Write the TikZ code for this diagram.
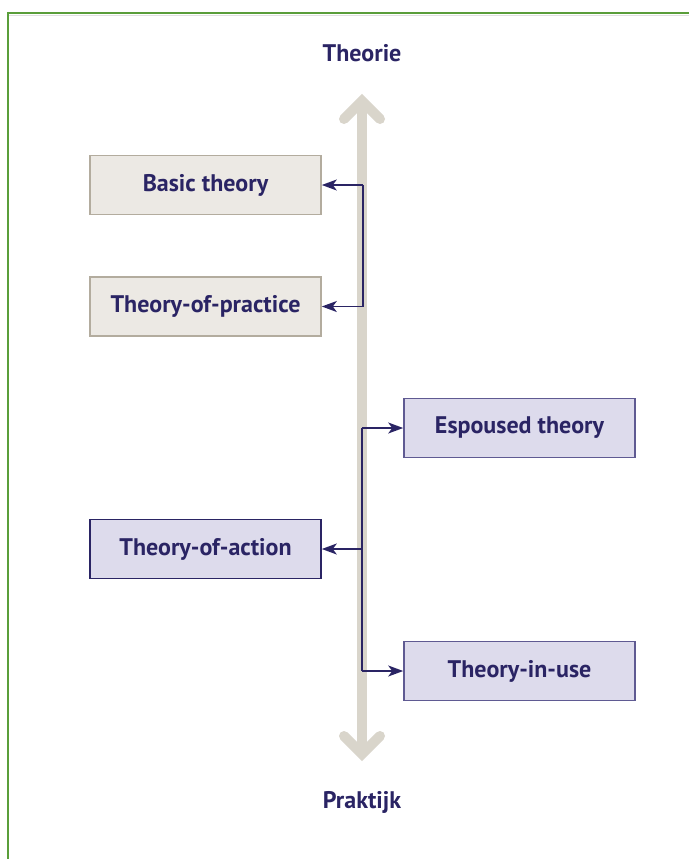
\documentclass[tikz,border=0pt]{standalone}
\usepackage{fontspec}
\setmainfont{PT Sans}
\usetikzlibrary{arrows.meta}
\definecolor{navy}{HTML}{2A2464}
\definecolor{axisgrey}{HTML}{D9D5CB}
\definecolor{theorybg}{HTML}{ECE9E4}
\definecolor{theoryrule}{HTML}{B3AC9E}
\definecolor{practicebg}{HTML}{DDDBEC}
\definecolor{practicerule}{HTML}{5F5A92}
\definecolor{framegreen}{HTML}{5A9E3A}
\begin{document}
\begin{tikzpicture}[x=1pt,y=-1pt,
  label/.style={font=\fontsize{24}{26}\selectfont\bfseries, text=navy},
  box/.style={rectangle, minimum width=231pt, minimum height=59pt, line width=1.6pt,
    font=\fontsize{24}{26}\selectfont\bfseries, text=navy},
  theorybox/.style={box, fill=theorybg, draw=theoryrule},
  practicebox/.style={box, fill=practicebg, draw=practicerule},
  link/.style={draw=navy, line width=1.6pt, -{Stealth[length=15pt,width=11pt,inset=4pt]}},
  axis/.style={draw=axisgrey, line width=10pt}
]
\useasboundingbox (0,0) rectangle (689,859);

% frame lines (top and left)
\draw[black!12, line width=1.5pt] (8,15.5) -- (689,15.5);
\draw[framegreen, line width=2pt] (7,13) -- (689,13);
\draw[framegreen, line width=2pt] (8,12) -- (8,859);

% vertical axis with open heads at both ends
\draw[axis] (362,102) -- (362,754);
\draw[axis, line cap=round, line join=miter] (344,119) -- (362,101) -- (380,119);
\draw[axis, line cap=round, line join=miter] (344,736) -- (362,754) -- (380,736);

\node[label] (top) at (362,53) {Theorie};
\node[label] (bottom) at (362,802) {Praktijk};

% boxes
\node[theorybox] (basic) at (205.5,185) {Basic theory};
\node[theorybox] (tpract) at (205.5,306.5) {Theory-of-practice};
\node[practicebox] (espoused) at (519.5,428) {Espoused theory};
\node[practicebox, draw=navy] (taction) at (205.5,549) {Theory-of-action};
\node[practicebox] (inuse) at (519.5,671) {Theory-in-use};

% connectors
\coordinate (j1) at (363,185);
\coordinate (j2) at (363,306.5);
\coordinate (k1) at (362,428);
\coordinate (k2) at (362,549);
\coordinate (k3) at (362,671);
\draw[navy, line width=1.6pt] (j1) -- (j2);
\draw[navy, line width=1.6pt] (k1) -- (k3);
\draw[link] (j1) -- (basic.east);
\draw[link] (j2) -- (tpract.east);
\draw[link] (k1) -- (espoused.west);
\draw[link] (k2) -- (taction.east);
\draw[link] (k3) -- (inuse.west);
\end{tikzpicture}
\end{document}
